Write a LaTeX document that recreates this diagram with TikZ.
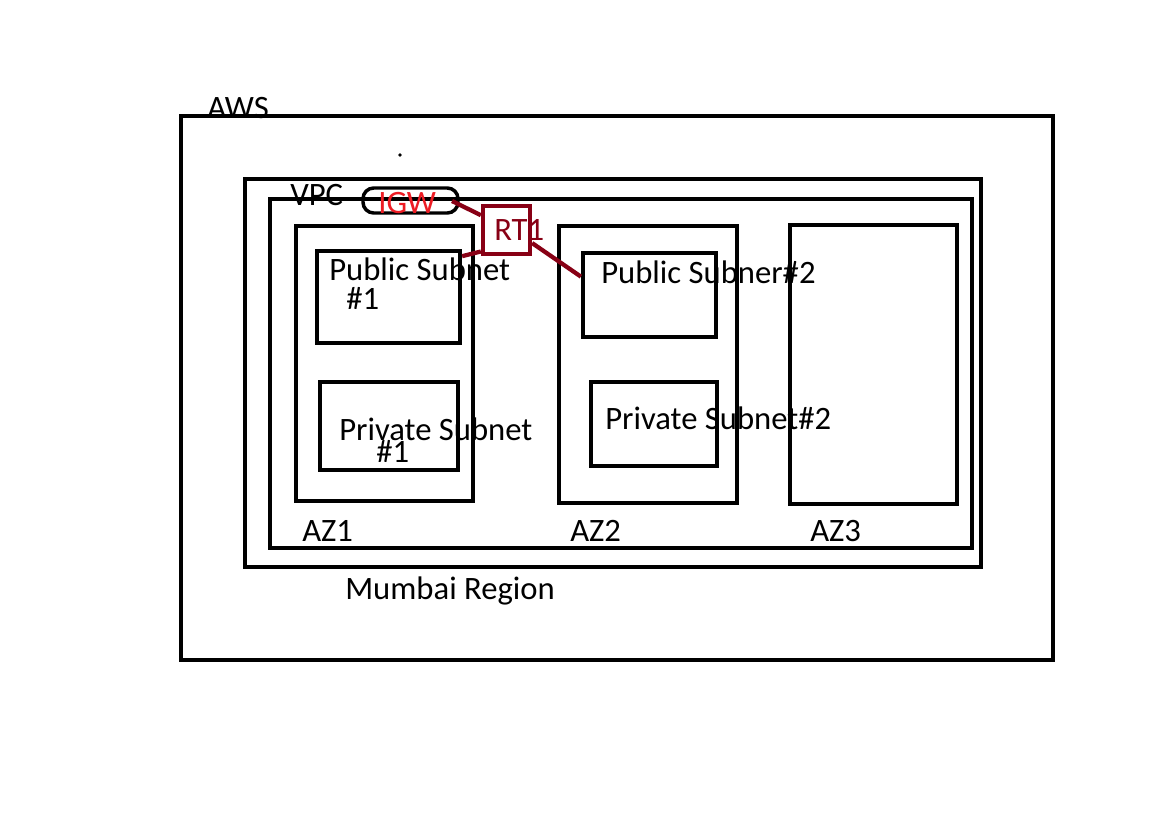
\documentclass[tikz,border=0pt]{standalone}
\usepackage{fontspec}
\setmainfont{Carlito}
\usetikzlibrary{fit}
\definecolor{paintred}{HTML}{ED1C24}
\definecolor{darkred}{HTML}{880015}
\tikzset{
  box/.style={draw=black, line width=3.2pt, inner sep=0pt},
  lbl/.style={anchor=base west, inner sep=0pt, font=\fontsize{24.5}{28}\selectfont},
  conn/.style={draw=darkred, line width=3.2pt},
}
\begin{document}
\begin{tikzpicture}[x=0.75pt, y=-0.75pt]
\useasboundingbox[fill=white] (0,0) rectangle (1152,815);
% containers
\node[box, fit={(181,116) (1053,660)}] (aws) {};
\node[box, fit={(245,179) (981,567)}] (region) {};
\node[box, fit={(270,199) (972,548)}] (vpc) {};
\node[box, fit={(296,226) (473,501)}] (az1) {};
\node[box, fit={(559,226) (737,503)}] (az2) {};
\node[box, fit={(790,225) (957,504)}] (az3) {};
\node[box, fit={(317,251) (460,343)}] (ps1) {};
\node[box, fit={(320,382) (458,470)}] (pv1) {};
\node[box, fit={(583,253) (716,337)}] (ps2) {};
\node[box, fit={(591,382) (717,466)}] (pv2) {};
% IGW and RT1
\node[draw=black, line width=2.6pt, rounded corners=8pt, inner sep=0pt, fit={(363,188) (458,213)}] (igw) {};
\node[draw=darkred, line width=3.2pt, inner sep=0pt, fit={(483,206) (530,254)}] (rt) {};
\fill (400,155) circle (1.8);
% labels
\node[lbl] (awsl) at (207,118) {AWS};
\node[lbl] (vpcl) at (290,205) {VPC};
\node[lbl, text=paintred] (igwl) at (378,213) {IGW};
\node[lbl, text=darkred] (rtl) at (494,240) {RT1};
\node[lbl] (ps1a) at (329,280) {Public Subnet};
\node[lbl] (ps1b) at (346,309) {\#1};
\node[lbl] (pv1a) at (339,440) {Private Subnet};
\node[lbl] (pv1b) at (376,462) {\#1};
\node[lbl] (ps2l) at (601,283) {Public Subner\#2};
\node[lbl] (pv2l) at (605,429) {Private Subnet\#2};
\node[lbl] (az1l) at (302,541) {AZ1};
\node[lbl] (az2l) at (570,541) {AZ2};
\node[lbl] (az3l) at (810,541) {AZ3};
\node[lbl] (regl) at (345,599) {Mumbai Region};
% connectors
\coordinate (igwend) at (452,201);
\draw[conn] (igwend) -- (rt.150);
\draw[conn] (rt.220) -- (ps1.29);
\draw[conn] (rt.333) -- (ps2.165);
\end{tikzpicture}
\end{document}
